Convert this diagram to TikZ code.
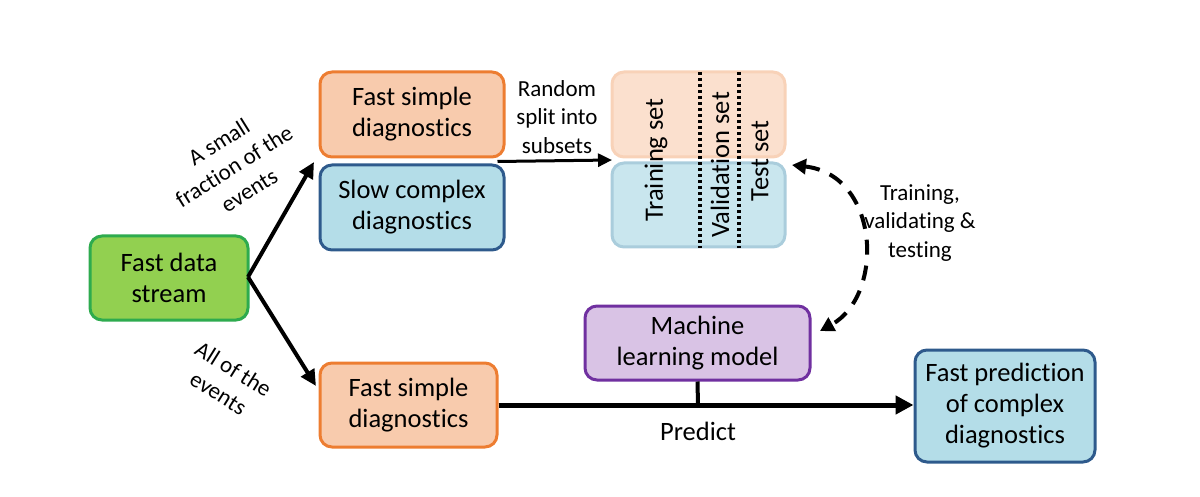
\documentclass[tikz,border=0pt]{standalone}
\usepackage{fontspec}
\setmainfont{Carlito}[Ligatures={NoCommon,NoRare,NoDiscretionary}]
\usetikzlibrary{arrows.meta}
\definecolor{gfill}{HTML}{92D050}
\definecolor{gdraw}{HTML}{2EAB4E}
\definecolor{ofill}{HTML}{F8CBAD}
\definecolor{odraw}{HTML}{ED7D31}
\definecolor{bfill}{HTML}{B4DDE8}
\definecolor{bdraw}{HTML}{2E5A8C}
\definecolor{pfill}{HTML}{D9C3E5}
\definecolor{pdraw}{HTML}{7030A0}
\definecolor{lofill}{HTML}{FBE0CE}
\definecolor{lodraw}{HTML}{F8D2B8}
\definecolor{lbfill}{HTML}{C9E6EE}
\definecolor{lbdraw}{HTML}{AACDDC}
\newcommand{\mydiag}{diagnos\kern0pt tics}
\tikzset{
  box/.style={rounded corners=12pt, line width=3pt, align=center, inner sep=0pt,
    font=\fontsize{26.5}{31}\selectfont},
  lab/.style={align=center, font=\fontsize{23}{28.5}\selectfont, inner sep=0pt},
  arr/.style={line width=4pt, -{Triangle[length=16pt,width=15pt]}},
  dots/.style={line width=3.5pt, dash pattern=on 3pt off 3pt},
}
\begin{document}
\begin{tikzpicture}[x=1pt,y=-1pt]
\useasboundingbox (0,0) rectangle (1200,497);
% nodes
\node[box, draw=gdraw, fill=gfill, minimum width=158pt, minimum height=84pt] (data) at (169,278) {Fast data\\stream};
\node[box, draw=odraw, fill=ofill, minimum width=184pt, minimum height=85pt] (fs1) at (412,114.5) {Fast simple\\\mydiag};
\node[box, draw=bdraw, fill=bfill, minimum width=184pt, minimum height=85pt] (sc) at (412,207.5) {Slow complex\\\mydiag};
\node[box, draw=lodraw, fill=lofill, minimum width=173pt, minimum height=85pt] (tt) at (698.5,114.5) {};
\node[box, draw=lbdraw, fill=lbfill, minimum width=173pt, minimum height=84pt] (tb) at (698.5,205) {};
\draw[dots] (700,72) -- (700,248);
\draw[dots] (739,72) -- (739,248);
\node[box, rotate=90] (trs) at (656,160) {Training set};
\node[box, rotate=90] (vas) at (720,165) {Validation set};
\node[box, rotate=90] (tes) at (760,161) {Test set};
\node[box, draw=pdraw, fill=pfill, minimum width=225pt, minimum height=74pt] (ml) at (697.5,343) {Machine\\learning model};
\node[box, draw=odraw, fill=ofill, minimum width=177pt, minimum height=84pt] (fs2) at (408.5,405) {Fast simple\\\mydiag};
\node[box, draw=bdraw, fill=bfill, minimum width=180pt, minimum height=112pt] (fp) at (1005,406) {Fast prediction\\of complex\\\mydiag};
% labels
\node[lab] (rs) at (557,117) {Random\\split into\\subsets};
\node[lab] (tvt) at (920,223) {Training,\\validating \&\\testing};
\node[lab, rotate=32] (small) at (234,166) {A small\\fraction of the\\events};
\node[lab, rotate=-32] (all) at (226,381) {All of the\\events};
\node[box] (pred) at (698,431) {Predict};
% connectors
\coordinate (split) at (248,277);
\coordinate (topin) at (314,162);
\coordinate (botin) at (316,386);
\draw[arr] (split) -- (topin);
\draw[arr] (split) -- (botin);
\draw[line width=3pt, -{Triangle[length=14pt,width=13pt]}] (fs1.south east) ++(-8,3) -- (612,160);
\coordinate (pj) at (698,405);
\draw[line width=5pt, -{Triangle[length=18pt,width=18pt]}] (fs2.east |- pj) -- (fp.west |- pj);
\draw[line width=4pt] (ml.south) -- (pj);
\coordinate (dA) at (792,165);
\coordinate (dB) at (820,331);
\draw[line width=4pt, dash pattern=on 15pt off 11pt, {Triangle[length=14pt,width=15pt]}-{Triangle[length=14pt,width=15pt]}]
  (dA) .. controls (880,175) and (885,295) .. (dB);
\end{tikzpicture}
\end{document}
